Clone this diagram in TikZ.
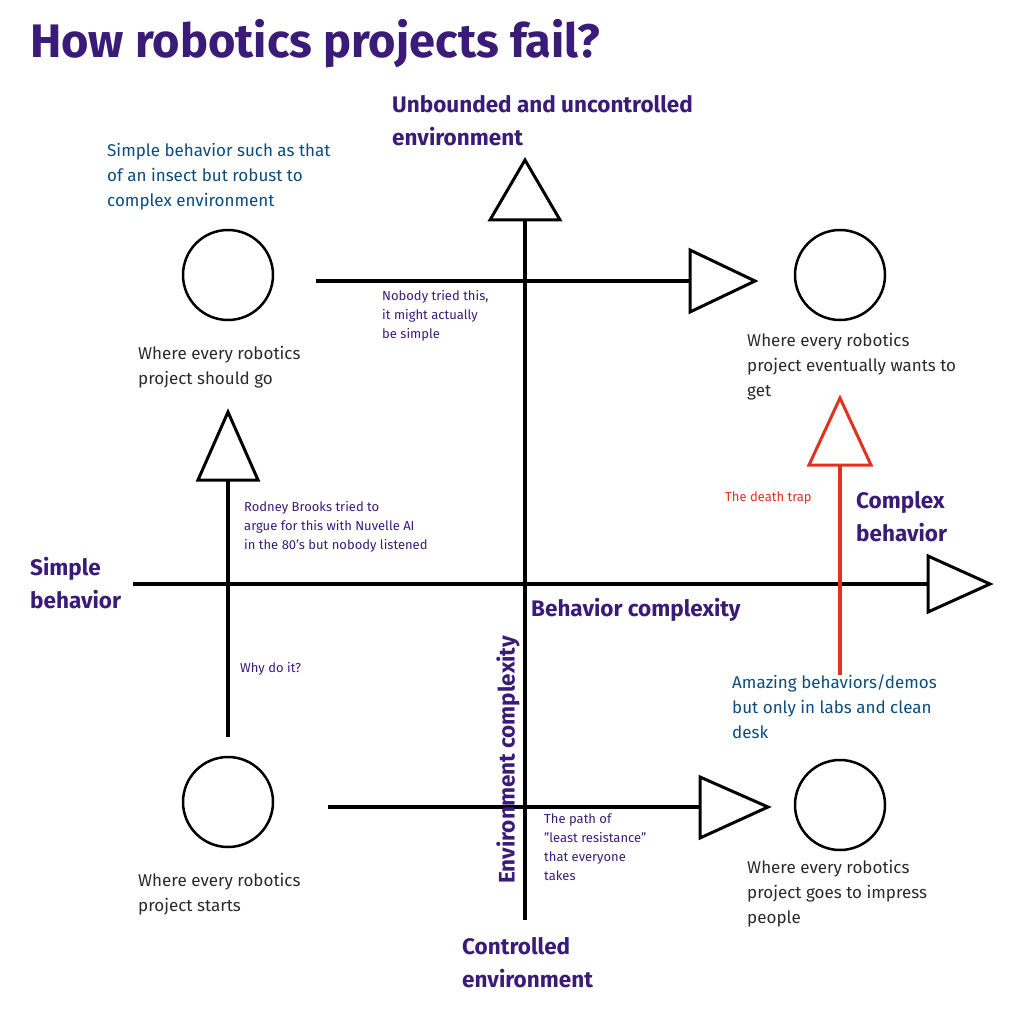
\documentclass[tikz,border=0pt]{standalone}
\usepackage{fontspec}
\setmainfont{Fira Sans}
\begin{document}
\begin{tikzpicture}[x=1pt,y=-1pt,
  ax/.style={line width=3.5pt},
  tri/.style={line width=3pt,fill=white,line join=miter},
  circ/.style={line width=2.5pt,draw},
  big/.style={font=\bfseries\fontsize{22.5}{33}\selectfont,text=ttl,align=left,inner sep=0},
  mid/.style={font=\fontsize{17}{25}\selectfont,align=left,inner sep=0,anchor=north west},
  sm/.style={font=\fontsize{13}{19}\selectfont,text=ttl,align=left,inner sep=0,anchor=north west}]
\definecolor{ttl}{HTML}{3A1C78}
\definecolor{blu}{HTML}{0B4C7E}
\definecolor{gry}{HTML}{2A2A2A}
\definecolor{rd}{HTML}{E0321F}
\useasboundingbox (0,0) rectangle (1024,1024);
\fill[white] (0,0) rectangle (1024,1024);
\node[anchor=west,inner sep=0,text=ttl,font=\bfseries\fontsize{47}{52}\selectfont] (title) at (30,44) {How robotics projects fail?};
% axes
\coordinate (vt) at (525,220); \coordinate (vb) at (525,920);
\coordinate (hl) at (133,584); \coordinate (hr) at (930,584);
\draw[ax] (vb) -- (vt);
\draw[tri] (490,220) -- (525,160) -- (560,220) -- cycle;
\draw[ax] (hl) -- (hr);
\draw[tri] (928,556) -- (990,584) -- (928,612) -- cycle;
% circles
\node[circ,circle,minimum size=90pt,inner sep=0] (c1) at (228,275) {};
\node[circ,circle,minimum size=90pt,inner sep=0] (c2) at (840,275) {};
\node[circ,circle,minimum size=90pt,inner sep=0] (c3) at (228,802) {};
\node[circ,circle,minimum size=90pt,inner sep=0] (c4) at (840,805) {};
% arrows
\coordinate (a1s) at (316,281); \coordinate (a1e) at (690,281);
\draw[ax] (a1s) -- (a1e);
\draw[tri] (690,250) -- (755,281) -- (690,312) -- cycle;
\coordinate (a2s) at (328,807); \coordinate (a2e) at (700,807);
\draw[ax] (a2s) -- (a2e);
\draw[tri] (700,777) -- (768,807) -- (700,838) -- cycle;
\coordinate (a3s) at (228,737); \coordinate (a3e) at (228,480);
\draw[ax] (a3s) -- (a3e);
\draw[tri] (198,480) -- (228,412) -- (258,480) -- cycle;
\coordinate (a4s) at (840,675); \coordinate (a4e) at (840,465);
\draw[ax,draw=rd] (a4s) -- (a4e);
\draw[tri,draw=rd] (809,465) -- (840,398) -- (871,465) -- cycle;
% axis labels
\node[big,anchor=north west] (l1) at (392,95) {Unbounded and uncontrolled\\environment};
\node[big,anchor=north west] (l2) at (462,937) {Controlled\\environment};
\node[big,anchor=north west] (l3) at (30,557) {Simple\\behavior};
\node[big,anchor=north west] (l4) at (856,491) {Complex\\behavior};
\node[big,anchor=west] (l5) at (531,610) {Behavior complexity};
\node[big,anchor=west,rotate=90] (l6) at (508,884) {Environment complexity};
% small labels
\node[sm] (s1) at (382,290) {Nobody tried this,\\it might actually\\be simple};
\node[sm] (s2) at (244,501) {Rodney Brooks tried to\\argue for this with Nuvelle AI\\in the 80's but nobody listened};
\node[sm] (s3) at (240,662) {Why do it?};
\node[sm,text=rd] (s4) at (725,492) {The death trap};
\node[sm] (s5) at (544,814) {The path of\\\symbol{34}least resistance\symbol{34}\\that everyone\\takes};
% descriptions
\node[mid,text=blu] (d1) at (107,143) {Simple behavior such as that\\of an insect but robust to\\complex environment};
\node[mid,text=blu] (d2) at (732,675) {Amazing behaviors/demos\\but only in labs and clean\\desk};
\node[mid,text=gry] (d3) at (138,346) {Where every robotics\\project should go};
\node[mid,text=gry] (d4) at (747,333) {Where every robotics\\project eventually wants to\\get};
\node[mid,text=gry] (d5) at (138,873) {Where every robotics\\project starts};
\node[mid,text=gry] (d6) at (747,860) {Where every robotics\\project goes to impress\\people};
\end{tikzpicture}
\end{document}
